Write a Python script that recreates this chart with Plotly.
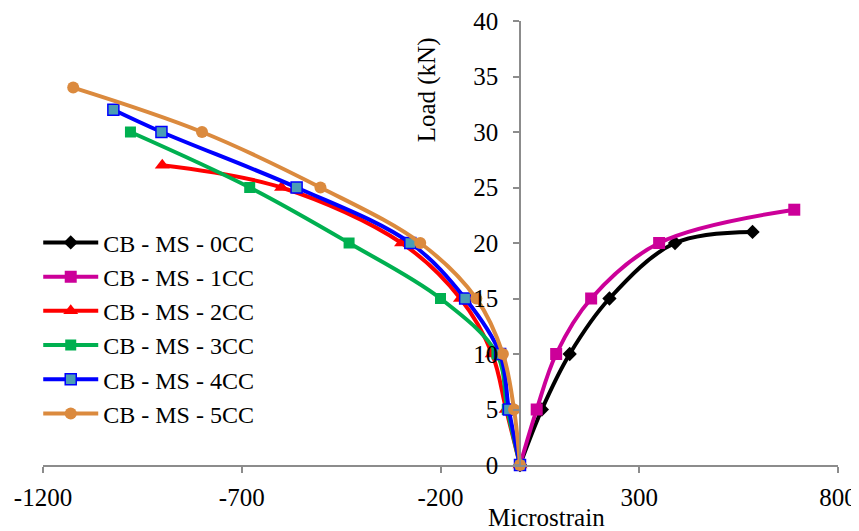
import plotly.graph_objects as go

# ---- data ----
series_names = ["CB - MS - 0CC", "CB - MS - 1CC", "CB - MS - 2CC",
                "CB - MS - 3CC", "CB - MS - 4CC", "CB - MS - 5CC"]

strain_0cc = [0, 55, 125, 225, 390, 585]
load_0cc = [0, 5, 10, 15, 20, 21]

strain_1cc = [0, 42, 91, 179, 350, 690]
load_1cc = [0, 5, 10, 15, 20, 23]

strain_2cc = [0, -35, -70, -150, -298, -600, -900]
load_2cc = [0, 5, 10, 15, 20, 25, 27]

strain_3cc = [0, -32, -58, -200, -430, -680, -980]
load_3cc = [0, 5, 10, 15, 20, 25, 30]

strain_4cc = [0, -28, -50, -138, -276, -562, -902, -1023]
load_4cc = [0, 5, 10, 15, 20, 25, 30, 32]

strain_5cc = [0, -15, -43, -110, -251, -502, -800, -1124]
load_5cc = [0, 5, 10, 15, 20, 25, 30, 34]

x_ticks = [-1200, -700, -200, 300, 800]
y_ticks = [0, 5, 10, 15, 20, 25, 30, 35, 40]

# ---- styles ----
styles = [
    dict(color="#000000", symbol="diamond", size=11, mfill="#000000", mline="#000000"),
    dict(color="#CC0099", symbol="square", size=12, mfill="#CC0099", mline="#CC0099"),
    dict(color="#FF0000", symbol="triangle-up", size=13, mfill="#FF0000", mline="#FF0000"),
    dict(color="#00B050", symbol="square", size=11, mfill="#00B050", mline="#00B050"),
    dict(color="#0000FF", symbol="square", size=11, mfill="#4A9DB5", mline="#0000FF"),
    dict(color="#DB8A3E", symbol="circle", size=12, mfill="#DB8A3E", mline="#DB8A3E"),
]

xs = [strain_0cc, strain_1cc, strain_2cc, strain_3cc, strain_4cc, strain_5cc]
ys = [load_0cc, load_1cc, load_2cc, load_3cc, load_4cc, load_5cc]

FONT = "Liberation Serif"

fig = go.Figure()
for name, x, y, s in zip(series_names, xs, ys, styles):
    fig.add_trace(go.Scatter(
        x=x, y=y, name=name, mode="lines+markers",
        line=dict(color=s["color"], width=4, shape="spline", smoothing=1.0),
        marker=dict(symbol=s["symbol"], size=s["size"], color=s["mfill"],
                    line=dict(color=s["mline"], width=1.5 if s["mline"] != s["mfill"] else 0)),
        cliponaxis=False,
    ))

fig.update_layout(
    width=859, height=531,
    margin=dict(l=35, r=29, t=13, b=74, autoexpand=False),
    plot_bgcolor="white", paper_bgcolor="white",
    font=dict(family=FONT, size=24, color="black"),
    showlegend=True,
    legend=dict(x=-0.006, y=0.551, xanchor="left", yanchor="top",
                font=dict(family=FONT, size=24, color="black"),
                bgcolor="rgba(0,0,0,0)", itemwidth=55, tracegroupgap=0),
    xaxis=dict(range=[-1200, 800], tickvals=x_ticks, ticktext=[str(v) for v in x_ticks],
               showgrid=False, zeroline=False, showline=True, linecolor="#8c8c8c",
               linewidth=1.5, ticks="outside", ticklen=6, tickcolor="#8c8c8c",
               tickwidth=1.5, tickfont=dict(family=FONT, size=25), automargin=False,
               ticklabelstandoff=3, ticklabeloverflow="allow"),
    yaxis=dict(range=[0, 40], tickvals=y_ticks, ticktext=[str(v) for v in y_ticks],
               anchor="free", position=0.6, showgrid=False, zeroline=False,
               showline=True, linecolor="#8c8c8c", linewidth=1.5, ticks="outside",
               ticklen=6, tickcolor="#8c8c8c", tickwidth=1.5,
               tickfont=dict(family=FONT, size=25), automargin=False,
               ticklabelstandoff=10, ticklabeloverflow="allow"),
    annotations=[
        dict(text="Microstrain", xref="paper", yref="paper", x=0.633, y=-0.118,
             xanchor="center", yanchor="middle", showarrow=False,
             font=dict(family=FONT, size=25)),
        dict(text="Load (kN)", xref="paper", yref="paper", x=0.483, y=0.846,
             xanchor="center", yanchor="middle", showarrow=False, textangle=-90,
             font=dict(family=FONT, size=25)),
    ],
)

fig.write_html("out.html")
